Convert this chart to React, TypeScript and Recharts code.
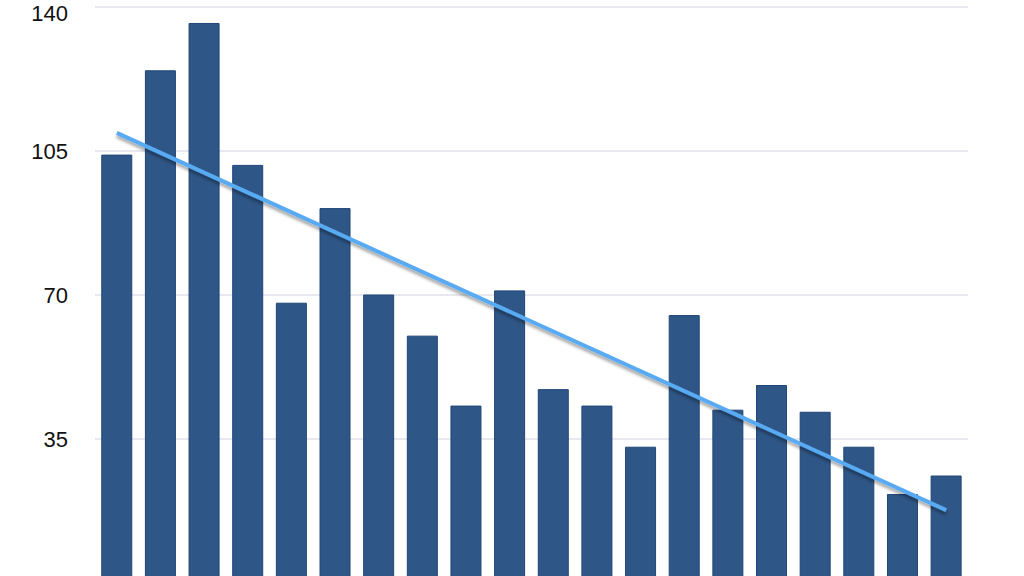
import { Bar, CartesianGrid, ComposedChart, Line, XAxis, YAxis } from "recharts";

// categories (no labels shown in the picture)
const periods = [
  "1", "2", "3", "4", "5", "6", "7", "8", "9", "10",
  "11", "12", "13", "14", "15", "16", "17", "18", "19", "20",
];

const values = [
  104, 124.5, 136, 101.5, 68, 91, 70, 60, 43, 71,
  47, 43, 33, 65, 42, 48, 41.5, 33, 21.5, 26,
];

// linear trend: only the two visible end points
const trendStart = 109.4;
const trendEnd = 17.7;

const yTicks = [0, 35, 70, 105, 140];

const data = periods.map((p, i) => ({
  period: p,
  value: values[i],
  trend: i === 0 ? trendStart : i === periods.length - 1 ? trendEnd : null,
}));

export default function App() {
  return (
    <div
      style={{
        position: "fixed",
        top: 0,
        left: 0,
        width: 1024,
        height: 576,
        overflow: "hidden",
        background: "#fff",
      }}
    >
      <ComposedChart
        width={1024}
        height={600}
        data={data}
        margin={{ top: 7, right: 56, bottom: 17, left: 0 }}
        barCategoryGap="15.5%"
      >
        <defs>
          <filter id="trendShadow" x="-5%" y="-20%" width="110%" height="140%">
            <feDropShadow dx="0" dy="3" stdDeviation="1.5" floodColor="#000" floodOpacity="0.35" />
          </filter>
        </defs>
        <CartesianGrid vertical={false} stroke="#dfe2e8" strokeWidth={1.5} />
        <XAxis dataKey="period" hide />
        <YAxis
          width={95}
          domain={[0, 140]}
          ticks={yTicks}
          axisLine={false}
          tickLine={false}
          tickSize={0}
          tickMargin={27}
          tick={{ fill: "#111", fontSize: 22, fontFamily: "Liberation Sans, Arial, sans-serif" }}
        />
        <Bar
          dataKey="value"
          fill="#2e5686"
          stroke="#1f4677"
          strokeWidth={1}
          isAnimationActive={false}
        />
        <Line
          dataKey="trend"
          type="linear"
          stroke="#58aaf2"
          strokeWidth={4}
          dot={false}
          activeDot={false}
          connectNulls
          filter="url(#trendShadow)"
          isAnimationActive={false}
        />
      </ComposedChart>
    </div>
  );
}
